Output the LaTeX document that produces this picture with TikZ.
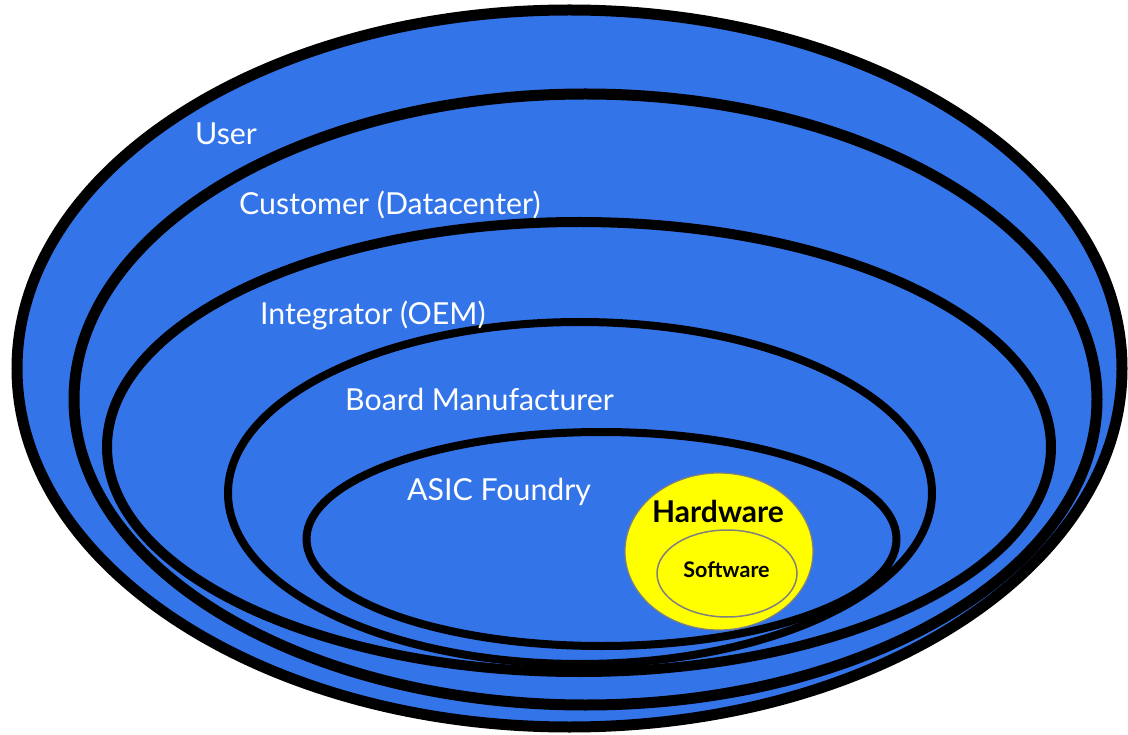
\documentclass[tikz,border=0pt]{standalone}
\usepackage{fontspec}
\setmainfont{Lato}
\definecolor{ringblue}{RGB}{51,116,233}
\definecolor{hwyellow}{RGB}{255,255,0}
\definecolor{rimgray}{RGB}{128,128,128}
\begin{document}
\begin{tikzpicture}[x=1pt,y=-1pt,
  ring/.style={fill=ringblue,draw=black},
  lbl/.style={anchor=base west,inner sep=0pt,text=white,font=\fontsize{30.3}{36}\selectfont},
  hwlbl/.style={anchor=base,inner sep=0pt,text=black,font=\bfseries\fontsize{30}{34}\selectfont},
  swlbl/.style={anchor=base,inner sep=0pt,text=black,font=\bfseries\fontsize{21.5}{25}\selectfont}]
\useasboundingbox (0,0) rectangle (1128,735);
% rings
\draw[ring,line width=11pt] (569.5,368.5) ellipse [x radius=552.5pt, y radius=358.5pt];
\draw[ring,line width=11pt] (585.5,399.5) ellipse [x radius=511.5pt, y radius=305.5pt];
\draw[ring,line width=10pt] (579,447) ellipse [x radius=472pt, y radius=225pt];
\draw[ring,line width=8pt] (580,493) ellipse [x radius=352pt, y radius=171pt];
\draw[ring,line width=8pt] (601.5,539) ellipse [x radius=295pt, y radius=107pt];
% hardware / software
\draw[fill=hwyellow,draw=rimgray,line width=1.2pt] (719,551.5) ellipse [x radius=94pt, y radius=78.5pt];
\draw[draw=rimgray,line width=1.5pt] (727,573.5) ellipse [x radius=70pt, y radius=43.5pt];
% labels
\node[lbl] (user) at (195,145) {User};
\node[lbl] (cust) at (239,215) {Customer (Datacenter)};
\node[lbl] (integ) at (260,325) {Integrator (OEM)};
\node[lbl] (board) at (345,410) {Board Manufacturer};
\node[lbl] (asic) at (407,500) {ASIC Foundry};
\node[hwlbl] (hw) at (718,522) {Hardware};
\node[swlbl] (sw) at (726.5,577) {Software};
\end{tikzpicture}
\end{document}
